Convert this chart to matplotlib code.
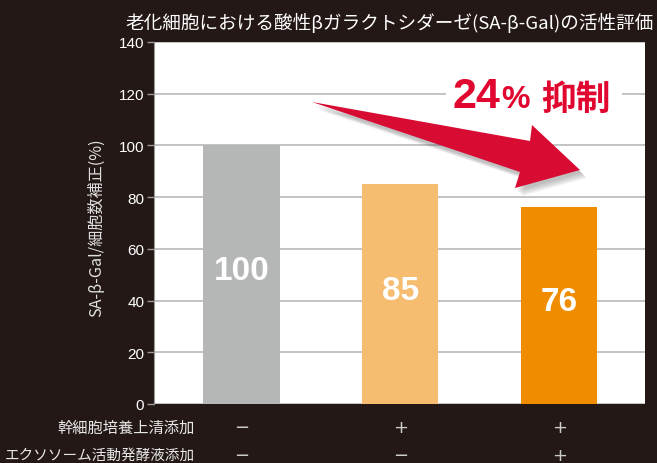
import matplotlib
matplotlib.use("Agg")
import matplotlib.pyplot as plt
from matplotlib.patches import Polygon, Rectangle
from matplotlib.transforms import ScaledTranslation

plt.rcParams['font.family'] = ['Noto Sans CJK JP', 'DejaVu Sans']

# data
values = [100, 85, 76]
bar_colors = ['#b5b6b6', '#f6bc6f', '#f08c00']
supernatant = ['−', '+', '+']
exosome = ['−', '−', '+']
row_labels = ['幹細胞培養上清添加', 'エクソソーム活動発酵液添加']
yticks = [0, 20, 40, 60, 80, 100, 120, 140]

BG = '#231815'
W, H = 657, 464

fig = plt.figure(figsize=(W / 100, H / 100), dpi=100, facecolor=BG)
ax = fig.add_axes([154 / W, (H - 405) / H, (645 - 154) / W, (405 - 43) / H])
ax.set_facecolor('white')

x = list(range(len(values)))
ax.bar(x, values, width=0.48, color=bar_colors, zorder=2)
ax.set_xlim(-0.55, 2.54)
ax.set_ylim(0, 140)
ax.set_yticks(yticks)
ax.set_xticks([])
ax.yaxis.grid(True, color='#b9b9b9', lw=1.2, zorder=0)
ax.set_axisbelow(True)
for s in ['top', 'right', 'bottom']:
    ax.spines[s].set_visible(False)
ax.spines['left'].set_color('#9a9a9a')
ax.tick_params(axis='y', colors='#9a9a9a', length=5, width=1, pad=2,
               labelcolor='white', labelsize=11)
for lab in ax.get_yticklabels():
    lab.set_family(['Liberation Sans', 'DejaVu Sans'])

ax.set_ylabel('SA-β-Gal/細胞数補正(%)', color='#e0e0e0', fontsize=11.6)
ax.yaxis.set_label_coords(-0.1, 0.49)

# value labels in bars
for xi, v in zip(x, values):
    ax.text(xi, v / 2 + 1.5, str(v), ha='center', va='center', color='white',
            fontsize=24, fontweight='bold', family=['Liberation Sans', 'DejaVu Sans'],
            zorder=3)

# title
fig.text(125 / W, 1 - 23 / H, '老化細胞における酸性βガラクトシダーゼ(SA-β-Gal)の活性評価',
         color='white', fontsize=13.4, ha='left', va='center')

# condition rows
for ypx, label, marks, fs in zip([428, 456], row_labels, [supernatant, exosome], [11, 10.5]):
    fig.text(195 / W, 1 - ypx / H, label, ha='right', va='center',
             color='#e8e8e8', fontsize=fs)
    ya = (405 - ypx) / 362
    for xi, m in zip(x, marks):
        ax.text(xi, ya, m, transform=ax.get_xaxis_transform(), ha='center', va='center',
                color='#cccccc', fontsize=13, family=['DejaVu Sans'], clip_on=False)

# arrow (axes fraction)
def px(p):
    return ((p[0] - 154) / 491, (405 - p[1]) / 362)

arrow_pts = [px(p) for p in [(312, 103), (530, 142), (532, 126), (580, 171),
                             (515, 189), (520, 173)]]
for i in range(6):
    off = ScaledTranslation((2 + i) / 100, -(3 + i) / 100, fig.dpi_scale_trans)
    ax.add_patch(Polygon(arrow_pts, closed=True, transform=ax.transAxes + off,
                         facecolor='#555555', edgecolor='none', alpha=0.07, zorder=4))
ax.add_patch(Polygon(arrow_pts, closed=True, transform=ax.transAxes,
                     facecolor='#d80c32', edgecolor='none', zorder=5))

# "24% 抑制"
ax.add_patch(Rectangle(((446 - 154) / 491, 0.80), (622 - 446) / 491, 0.12,
                       transform=ax.transAxes, facecolor='white', edgecolor='none', zorder=1))
yb = (405 - 108) / 362
red = '#e0062f'
ax.text((453 - 154) / 491, yb, '24', transform=ax.transAxes, ha='left', va='baseline',
        color=red, fontsize=31, fontweight='bold', family=['Liberation Sans'], zorder=6)
ax.text((501 - 154) / 491, yb, '%', transform=ax.transAxes, ha='left', va='baseline',
        color=red, fontsize=23, fontweight='bold', family=['Liberation Sans'], zorder=6)
ax.text((541 - 154) / 491, yb - 0.005, '抑制', transform=ax.transAxes, ha='left', va='baseline',
        color=red, fontsize=25, fontweight='bold', zorder=6)

fig.savefig('out.png', dpi=100, facecolor=BG)
